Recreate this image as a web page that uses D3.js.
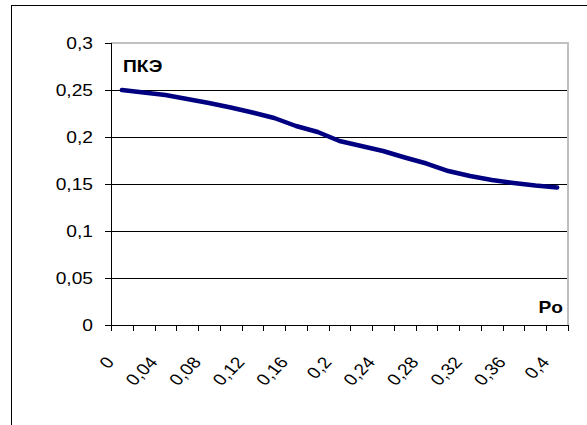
<!DOCTYPE html>
<html>
<head>
<meta charset="UTF-8" />
<script src="https://d3js.org/d3.v7.min.js"></script>
<style>
  body { margin: 0; background: #fff; }
  text { font-family: "Liberation Sans", Arial, sans-serif; }
</style>
</head>
<body>
<svg width="587" height="425"></svg>
<script>
// data
const categories = d3.range(21).map(i => +(i * 0.02).toFixed(2));
const values = [0.25, 0.2473, 0.2447, 0.2404, 0.2362, 0.2314, 0.2261, 0.2202, 0.2117, 0.2053,
                0.1957, 0.1904, 0.1851, 0.1782, 0.1718, 0.1638, 0.1585, 0.1543, 0.1511, 0.1484, 0.1463];
const yTicks = [0, 0.05, 0.1, 0.15, 0.2, 0.25, 0.3];
const yTitle = "ПКЭ";
const xTitle = "Po";

const fmt = v => String(v).replace(".", ",");
const sx = 1.2; // text in the original looks a little wide

const svg = d3.select("svg");
const plotL = 111, plotR = 568, plotT = 43, plotB = 325;

// outer chart frame (runs off the picture on right/bottom)
svg.append("rect")
  .attr("x", 11.5).attr("y", 5.5)
  .attr("width", 640).attr("height", 500)
  .attr("fill", "none").attr("stroke", "#000");

const x = d3.scaleBand().domain(categories).range([plotL, plotR]).padding(0);
const y = d3.scaleLinear().domain([0, 0.3]).range([plotB, plotT]);

// gridlines
svg.append("g")
  .selectAll("line")
  .data(yTicks.filter(d => d > 0 && d < 0.3))
  .join("line")
  .attr("x1", plotL).attr("x2", plotR)
  .attr("y1", d => Math.round(y(d)) + 0.5).attr("y2", d => Math.round(y(d)) + 0.5)
  .attr("stroke", "#000");

// plot area top/right border
svg.append("path")
  .attr("d", `M${plotL},${plotT}H${plotR}V${plotB}`)
  .attr("fill", "none").attr("stroke", "#c0c0c0").attr("stroke-width", 2);

// y axis
const yAxis = svg.append("g");
yAxis.append("line")
  .attr("x1", plotL + 0.5).attr("x2", plotL + 0.5)
  .attr("y1", plotT).attr("y2", plotB)
  .attr("stroke", "#000");
const yt = yAxis.selectAll("g.tick").data(yTicks).join("g")
  .attr("transform", d => `translate(0,${Math.round(y(d)) + 0.5})`);
yt.append("line").attr("x1", plotL - 6).attr("x2", plotL).attr("stroke", "#000");
yt.append("text")
  .attr("transform", `translate(${plotL - 18},0) scale(${sx},1)`)
  .attr("dy", "0.35em")
  .attr("text-anchor", "end")
  .attr("font-size", 16)
  .text(d => fmt(d));

// x axis
const xAxis = svg.append("g");
xAxis.append("line")
  .attr("x1", plotL).attr("x2", plotR)
  .attr("y1", plotB + 0.5).attr("y2", plotB + 0.5)
  .attr("stroke", "#000");
const tickPos = categories.map(c => x(c)).concat([plotR]);
xAxis.selectAll("line.tk").data(tickPos).join("line")
  .attr("class", "tk")
  .attr("x1", d => Math.round(d) + 0.5).attr("x2", d => Math.round(d) + 0.5)
  .attr("y1", plotB).attr("y2", plotB + 6)
  .attr("stroke", "#000");
xAxis.selectAll("text").data(categories.filter((c, i) => i % 2 === 0)).join("text")
  .attr("transform", d => `translate(${x(d) + x.bandwidth() / 2 - 12},${plotB + 34}) scale(${sx},1) rotate(-50)`)
  .attr("text-anchor", "end")
  .attr("dy", "0.35em")
  .attr("font-size", 16)
  .text(d => fmt(d));

// series
const line = d3.line()
  .x((d, i) => x(categories[i]) + x.bandwidth() / 2)
  .y(d => y(d));
svg.append("path")
  .datum(values)
  .attr("d", line)
  .attr("fill", "none")
  .attr("stroke", "#000080")
  .attr("stroke-width", 4.5)
  .attr("stroke-linejoin", "round")
  .attr("stroke-linecap", "round");

// axis titles inside plot
svg.append("text")
  .attr("transform", `translate(123,72) scale(${sx},1)`)
  .attr("font-size", 16).attr("font-weight", "bold")
  .text(yTitle);
svg.append("text")
  .attr("transform", `translate(563,313) scale(${sx},1)`)
  .attr("text-anchor", "end")
  .attr("font-size", 16).attr("font-weight", "bold")
  .text(xTitle);
</script>
</body>
</html>
